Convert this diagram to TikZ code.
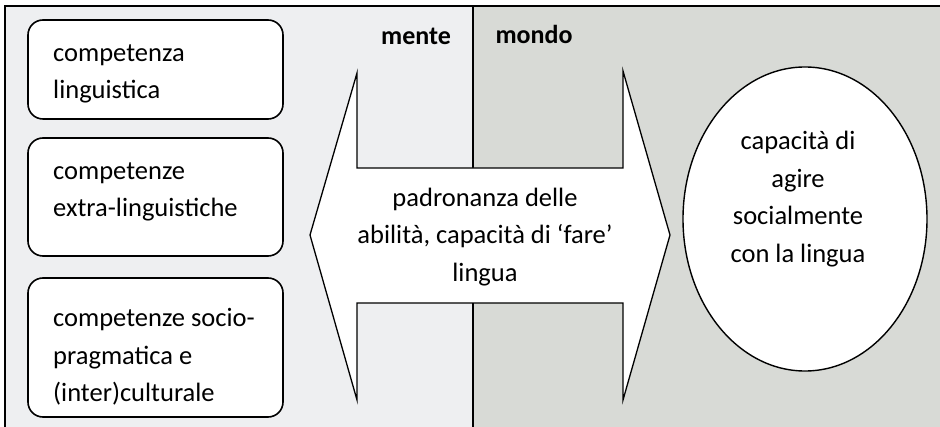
\documentclass[tikz,border=0pt]{standalone}
\usepackage{fontspec}
\setmainfont{Carlito}
\begin{document}
\begin{tikzpicture}[x=1pt,y=-1pt,
  txt/.style={font=\fontsize{26.5}{37.5}\selectfont, inner sep=0pt},
  boxtxt/.style={txt, align=left, anchor=west},
  ctxt/.style={txt, align=center},
  hdr/.style={font=\fontsize{26}{30}\selectfont\bfseries, inner sep=0pt},
  compbox/.style={draw=black, line width=1.6pt, rounded corners=15pt, fill=white, minimum width=255pt, inner sep=0pt}
]
\useasboundingbox (0,0) rectangle (940,427);
\definecolor{leftbg}{HTML}{EEEFF1}
\definecolor{rightbg}{HTML}{D8DAD6}
% backgrounds
\fill[leftbg] (5,6) rectangle (473,427);
\fill[rightbg] (473,6) rectangle (940,427);
\draw[line width=1.3pt] (5,427) -- (5,6) -- (940,6);
\draw[line width=1.6pt] (473,6) -- (473,427);
% headers
\node[hdr] (mente) at (416,36) {mente};
\node[hdr] (mondo) at (534,34) {mondo};
% boxes
\node[compbox, minimum height=99pt] (b1) at (155.5,69.5) {};
\node[compbox, minimum height=118pt] (b2) at (155.5,197) {};
\node[compbox, minimum height=139pt] (b3) at (155.5,347.5) {};
\node[boxtxt] (t1) at (53,74) {competenza\\linguistica};
\node[boxtxt] (t2) at (53,192) {competenze\\extra-linguistiche};
\node[boxtxt] (t3) at (53,357) {competenze socio-\\pragmatica e\\(inter)culturale};
% double arrow
\draw[line width=1.3pt, fill=white, line join=miter]
  (310,235) -- (357,73) -- (357,168) -- (623,168) -- (623,71) -- (670,235)
  -- (623,400) -- (623,303) -- (357,303) -- (357,400) -- cycle;
\node[ctxt] (arrtxt) at (485,237) {padronanza delle\\abilità, capacità di ‘fare’\\lingua};
% ellipse
\draw[line width=1.4pt, fill=white] (805,219) ellipse [x radius=122, y radius=152];
\node[ctxt] (elltxt) at (798,199) {capacità di\\agire\\socialmente\\con la lingua};
\end{tikzpicture}
\end{document}
